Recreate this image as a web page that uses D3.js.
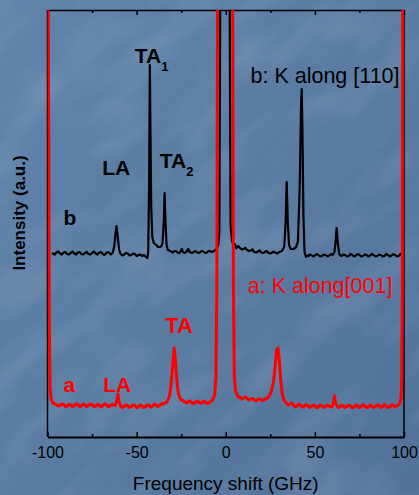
<!DOCTYPE html>
<html lang="en">
<head>
    <meta charset="UTF-8">
    <title>Brillouin spectra</title>
    <script src="https://d3js.org/d3.v7.min.js"></script>
    <style>
        body {
            margin: 0;
            padding: 0;
            background-color: #5a7ca4;
            font-family: "Liberation Sans", Arial, sans-serif;
        }
        svg {
            display: block;
        }
        .label {
            font-family: "Liberation Sans", Arial, sans-serif;
        }
    </style>
</head>
<body>
    <svg id="chart"></svg>

    <script>
        // spectrum a: K along [001] (red), [frequency GHz, intensity a.u.]
        const curveA = [
            [-99.6, 440], [-99.3, 300], [-99.0, 120], [-98.6, 50], [-98.0, 38], [-97.0, 34],
            [-95, 32.5], [-94, 31], [-93, 31.5], [-92, 33], [-91, 32.5], [-90, 30.5], [-89, 31], [-88, 32.5], [-87, 32], [-86, 30.5], [-85, 31.5],
            [-84, 33], [-83, 32.5], [-82, 30.5], [-81, 31], [-80, 33], [-79, 32], [-78, 30.5], [-77, 31.5], [-76, 33], [-75, 32.5], [-74, 30.5], [-73, 31],
            [-72, 32.5], [-71, 32], [-70, 30], [-69, 31.5], [-68, 33], [-67, 32.5], [-66, 30.5], [-65, 31], [-64, 32.5], [-63, 32], [-62, 31.5],
            [-61.2, 36], [-60.5, 43], [-59.8, 35], [-59, 31], [-58, 29.5], [-57, 30.5], [-56, 32], [-55, 31.5],
            [-54, 29.5], [-53, 30.5], [-52, 32], [-51, 31.5], [-50, 29.5], [-49, 30], [-48, 32], [-47, 31], [-46, 29.5], [-45, 30.5], [-44, 32], [-43, 31.5],
            [-42, 30], [-41, 31], [-40, 33], [-39, 32], [-38, 30.5], [-37, 31.5], [-36, 33.5], [-35, 33], [-34, 34], [-33, 35], [-31.5, 41],
            [-30.5, 56], [-29.6, 75], [-29, 89], [-28.4, 80], [-27.6, 60], [-26.8, 46],
            [-26, 40], [-25, 37], [-24, 36.5], [-23, 35], [-22, 34], [-21, 35.5], [-20, 36], [-19, 34], [-18, 33.5], [-17, 35],
            [-16, 36], [-15, 34.5], [-14, 33.5], [-13, 35], [-12, 36], [-11, 34], [-10, 33.5], [-9, 35], [-8, 36], [-7.5, 37], [-6.2, 42],
            [-5.5, 60], [-5.0, 150], [-4.6, 440], [0, 3000], [3.9, 440], [4.3, 150],
            [4.8, 60], [5.5, 46], [6.5, 42], [7, 40], [8, 40], [9, 38], [10, 39], [11, 40], [12, 38.5],
            [13, 37], [14, 38], [15, 38.5], [16, 37], [17, 36], [18, 37.5], [19, 38], [20, 37], [21, 36.5], [22, 38], [23, 38.5], [24, 40],
            [25.5, 45], [26.8, 55], [27.8, 72], [28.6, 87], [29.3, 89], [30, 78],
            [30.8, 58], [31.6, 44], [32.5, 38], [33, 36], [34, 34], [35, 32], [36, 33], [37, 34], [38, 32],
            [39, 30], [40, 31], [41, 33], [42, 32], [43, 30], [44, 30.5], [45, 32.5], [46, 31.5], [47, 29.5], [48, 30.5], [49, 32], [50, 31],
            [51, 29.5], [52, 30], [53, 32], [54, 31], [55, 29.5], [56, 30.5], [57, 32], [58, 31], [59, 30], [60, 31.5], [60.5, 36],
            [61, 41], [61.6, 34], [62.5, 31], [63, 29.5], [64, 30], [65, 32], [66, 31], [67, 29.5], [68, 30.5],
            [69, 32], [70, 31], [71, 29], [72, 30], [73, 32], [74, 31], [75, 29.5], [76, 30.5], [77, 32.5], [78, 31], [79, 29.5], [80, 30],
            [81, 32], [82, 31], [83, 29.5], [84, 30.5], [85, 32], [86, 31.5], [87, 29.5], [88, 30.5], [89, 32.5], [90, 31], [91, 29.5], [92, 30],
            [93, 32], [94, 31.5], [95, 30], [96, 31], [97.5, 33], [98.3, 38], [98.8, 60], [99.1, 150],
            [99.3, 440]
        ];

        // spectrum b: K along [110] (black)
        const curveB = [
            [-97.5, 184], [-96, 182.5], [-95, 184.5], [-94, 185.5], [-93, 183.5], [-92, 182.5], [-91, 184.5], [-90, 185], [-89, 183], [-88, 182.5], [-87, 184],
            [-86, 185.5], [-85, 183.5], [-84, 182.5], [-83, 184.5], [-82, 185], [-81, 183], [-80, 182.5], [-79, 184], [-78, 185], [-77, 183], [-76, 182.5], [-75, 184],
            [-74, 185.5], [-73, 183.5], [-72, 182.5], [-71, 184.5], [-70, 185], [-69, 183], [-68, 182], [-67, 184], [-66, 185], [-65, 183.5], [-64.5, 182.5], [-63.5, 184],
            [-62.6, 190], [-61.8, 204], [-61.3, 211], [-60.6, 200], [-59.8, 187], [-59, 183],
            [-58, 181.5], [-57, 182.5], [-56, 184], [-55, 183.5], [-54, 181.5], [-53, 182], [-52, 183.5], [-51, 183], [-50, 181], [-49, 182], [-48, 182.5], [-47, 181],
            [-46, 182], [-45, 180.5], [-44, 179], [-43.5, 185], [-43.0, 250], [-42.6, 372], [-42.2, 300],
            [-41.8, 230], [-41.2, 200], [-40.4, 194], [-39, 192], [-38, 190], [-37, 190], [-36, 191], [-35.5, 194],
            [-34.8, 215], [-34.3, 244], [-33.8, 215], [-33.2, 192], [-32.5, 187], [-31, 186],
            [-30, 184.5], [-29, 185.5], [-28, 186], [-27, 184.5], [-26, 184], [-25.5, 185], [-24.6, 188], [-24, 185], [-23, 184], [-22, 185.5],
            [-21, 188], [-20.3, 185], [-19, 184], [-18, 185], [-17, 186], [-16, 184.5], [-15, 184], [-14, 185.5], [-13, 186], [-12, 184.5],
            [-11, 184], [-10, 185.5], [-9, 186], [-8, 185], [-6.5, 186], [-5.2, 188], [-4.2, 192], [-3.6, 205],
            [-3.1, 440], [0, 3000], [2.2, 440], [2.7, 212], [3.5, 196], [4.3, 192], [5, 193],
            [6, 189], [6.5, 190], [7, 191], [8, 189], [9, 187.5], [10, 188], [11, 189], [12, 187], [13, 186], [14, 186.5], [15, 187.5], [16, 185],
            [17, 184.5], [18, 185.5], [19, 186.5], [20, 184.5], [21, 184], [22, 185], [23, 186], [24, 184], [25, 183.5], [26, 184.5], [27, 185.5], [28, 184],
            [29, 183.5], [30, 185], [31.5, 186], [32.8, 190], [33.6, 215], [34.2, 255], [34.8, 215],
            [35.5, 192], [36.5, 188], [38, 188], [39.5, 190], [40.5, 196], [41.5, 250],
            [42.2, 330], [42.6, 348], [43.0, 310], [43.6, 220], [44.2, 185], [45, 180],
            [46, 181.5], [46.5, 181], [47, 182.5], [48, 182], [49, 180.5], [50, 181.5], [51, 183], [52, 182], [53, 180.5], [54, 181], [55, 182.5], [56, 182],
            [57, 180.5], [58, 181.5], [59, 183], [60, 182], [61, 185], [61.6, 195], [62.2, 209], [62.8, 195],
            [63.6, 184], [64, 182], [65, 181], [66, 182.5], [67, 182], [68, 180.5], [69, 181], [70, 183], [71, 182], [72, 180.5], [73, 181.5],
            [74, 183], [75, 182], [76, 180.5], [77, 181], [78, 182.5], [79, 182], [80, 180.5], [81, 181.5], [82, 183], [83, 182], [84, 180.5], [85, 181],
            [86, 182.5], [87, 182], [88, 180.5], [89, 181], [90, 183], [91, 182], [92, 180.5], [93, 181.5], [94, 183], [95, 182], [96, 180.5], [97, 181],
            [98, 183], [98.8, 182]
        ];

        const majorTicks = [-100, -50, 0, 50, 100];
        const minorTicks = [-75, -25, 25, 75];

        const width = 419;
        const height = 495;
        const plot = { left: 47.5, right: 404, top: 10, bottom: 437 };

        const svg = d3.select("#chart")
            .attr("width", width)
            .attr("height", height);

        // background: blue with soft mottled texture
        const defs = svg.append("defs");
        const grad = defs.append("linearGradient")
            .attr("id", "bg")
            .attr("x1", 0).attr("y1", 0)
            .attr("x2", 1).attr("y2", 1);
        grad.append("stop").attr("offset", 0).attr("stop-color", "#6084ab");
        grad.append("stop").attr("offset", 0.5).attr("stop-color", "#5a7ba2");
        grad.append("stop").attr("offset", 1).attr("stop-color", "#52729a");

        const tex = defs.append("filter")
            .attr("id", "tex")
            .attr("x", 0).attr("y", 0)
            .attr("width", 1).attr("height", 1);
        tex.append("feTurbulence")
            .attr("type", "fractalNoise")
            .attr("baseFrequency", "0.01 0.025")
            .attr("numOctaves", 3)
            .attr("seed", 4);
        tex.append("feColorMatrix")
            .attr("values", "0 0 0 0 1  0 0 0 0 1  0 0 0 0 1  0 0 0 1.4 -0.6");

        defs.append("clipPath")
            .attr("id", "plotclip")
            .append("rect")
            .attr("x", plot.left)
            .attr("y", plot.top)
            .attr("width", plot.right - plot.left)
            .attr("height", plot.bottom - plot.top);

        svg.append("rect")
            .attr("width", width)
            .attr("height", height)
            .attr("fill", "url(#bg)");

        svg.append("g")
            .attr("transform", "rotate(-40 210 250)")
            .append("rect")
            .attr("x", -200).attr("y", -200)
            .attr("width", 820).attr("height", 900)
            .attr("filter", "url(#tex)")
            .attr("opacity", 0.18);

        const x = d3.scaleLinear().domain([-100, 100]).range([plot.left, plot.right]);
        const y = d3.scaleLinear().domain([0, 427]).range([plot.bottom, plot.top]);

        // axes
        const xAxis = svg.append("g")
            .attr("transform", `translate(0,${plot.bottom})`)
            .call(d3.axisBottom(x).tickValues(majorTicks).tickSize(-5).tickSizeOuter(0).tickPadding(10)
                .tickFormat(d => String(d)));
        xAxis.select(".domain").attr("stroke", "#000").attr("stroke-width", 2);
        xAxis.selectAll(".tick line").attr("stroke", "#000").attr("stroke-width", 1.5);
        xAxis.selectAll(".tick text")
            .style("font-family", "'Liberation Sans', Arial, sans-serif")
            .style("font-size", "16px")
            .attr("fill", "#000");

        svg.append("g")
            .attr("transform", `translate(0,${plot.bottom})`)
            .call(d3.axisBottom(x).tickValues(minorTicks).tickSize(-3).tickSizeOuter(0).tickFormat(""))
            .call(g => g.select(".domain").remove())
            .selectAll(".tick line").attr("stroke", "#000").attr("stroke-width", 1.5);

        const topAxis = svg.append("g")
            .attr("transform", `translate(0,${plot.top})`)
            .call(d3.axisTop(x).tickValues(majorTicks).tickSize(-5).tickSizeOuter(0).tickFormat(""));
        topAxis.select(".domain").attr("stroke", "#000").attr("stroke-width", 1.5);
        topAxis.selectAll(".tick line").attr("stroke", "#000").attr("stroke-width", 1.5);

        svg.append("g")
            .attr("transform", `translate(0,${plot.top})`)
            .call(d3.axisTop(x).tickValues(minorTicks).tickSize(-3).tickSizeOuter(0).tickFormat(""))
            .call(g => g.select(".domain").remove())
            .selectAll(".tick line").attr("stroke", "#000").attr("stroke-width", 1.5);

        [plot.left, plot.right].forEach(px => {
            svg.append("line")
                .attr("x1", px).attr("x2", px)
                .attr("y1", plot.top).attr("y2", plot.bottom)
                .attr("stroke", "#000")
                .attr("stroke-width", 1.5);
        });

        // curves
        const line = d3.line()
            .x(d => x(d[0]))
            .y(d => y(d[1]));

        const curves = svg.append("g").attr("clip-path", "url(#plotclip)");

        curves.append("path")
            .datum(curveB)
            .attr("d", line)
            .attr("fill", "none")
            .attr("stroke", "#000")
            .attr("stroke-width", 2.2)
            .attr("stroke-linejoin", "round");

        curves.append("path")
            .datum(curveA)
            .attr("d", line)
            .attr("fill", "none")
            .attr("stroke", "#ff0000")
            .attr("stroke-width", 3)
            .attr("stroke-linejoin", "round");

        // axis titles
        svg.append("text")
            .attr("class", "label")
            .attr("x", x(0))
            .attr("y", 490)
            .attr("text-anchor", "middle")
            .style("font-size", "19px")
            .text("Frequency shift (GHz)");

        svg.append("text")
            .attr("class", "label")
            .attr("transform", "translate(25,213) rotate(-90)")
            .attr("text-anchor", "middle")
            .style("font-size", "17px")
            .style("font-weight", "bold")
            .text("Intensity (a.u.)");

        // peak annotations
        function addLabel(px, py, txt, color, opts = {}) {
            const t = svg.append("text")
                .attr("class", "label")
                .attr("x", px)
                .attr("y", py)
                .attr("fill", color)
                .attr("text-anchor", opts.anchor || "start")
                .style("font-size", (opts.size || 21) + "px")
                .style("font-weight", opts.bold === false ? "normal" : "bold");
            t.append("tspan").text(txt);
            if (opts.sub) {
                t.append("tspan")
                    .attr("dy", 8)
                    .style("font-size", "13px")
                    .text(opts.sub);
            }
            return t;
        }

        addLabel(x(-51), y(374), "TA", "#000", { sub: "1" });
        addLabel(x(-69.3), y(262), "LA", "#000");
        addLabel(x(-37), y(269), "TA", "#000", { sub: "2" });
        addLabel(x(-91), y(212), "b", "#000");
        addLabel(x(97.5), y(354), "b: K along [110]", "#000", { bold: false, size: 21.5, anchor: "end" });

        addLabel(x(-34), y(104), "TA", "#ff0000", { size: 22 });
        addLabel(x(-91), y(45), "a", "#ff0000");
        addLabel(x(-68.7), y(45), "LA", "#ff0000");
        addLabel(x(93.5), y(144), "a: K along[001]", "#ff0000", { bold: false, size: 21.5, anchor: "end" });
    </script>
</body>
</html>
